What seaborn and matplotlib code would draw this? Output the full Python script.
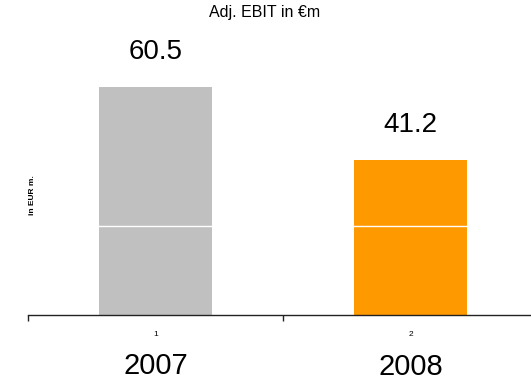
import matplotlib
matplotlib.use("Agg")
import matplotlib.pyplot as plt
from matplotlib.transforms import blended_transform_factory
import seaborn as sns
import pandas as pd

# Chart data
years = ["2007", "2008"]
tick_labels = ["1", "2"]
ebit = [60.5, 41.2]
bar_colors = ["#C0C0C0", "#FF9900"]
grid_value = 23.6

sns.set_style("white")
plt.rcParams["font.family"] = ["Liberation Sans", "DejaVu Sans"]
plt.rcParams["text.color"] = "black"
plt.rcParams["xtick.color"] = "black"

df = pd.DataFrame({"year": years, "ebit": ebit})

fig = plt.figure(figsize=(5.31, 3.80), dpi=100)
W, H = 531, 380
# plotting area spans past the right edge of the figure
ax = fig.add_axes([28 / W, 65 / H, 510 / W, 283 / H])

sns.barplot(data=df, x="year", y="ebit", hue="year", palette=bar_colors,
            width=0.445, legend=False, ax=ax, saturation=1, edgecolor="none")

ax.set_xlim(-0.5, 1.5)
ax.set_ylim(0, 75)

# white horizontal gridline drawn over the bars
ax.set_axisbelow(False)
ax.set_yticks([grid_value])
ax.yaxis.grid(True, color="white", linewidth=1.0)
ax.tick_params(axis="y", left=False, labelleft=False)

for side in ["left", "right", "top"]:
    ax.spines[side].set_visible(False)
ax.spines["bottom"].set_color("#222222")
ax.spines["bottom"].set_linewidth(1.0)

# category labels at centres, tick marks at category boundaries
ax.set_xticks([0, 1])
ax.set_xticklabels(tick_labels, fontsize=6, color="black")
ax.tick_params(axis="x", which="major", bottom=True, length=0, pad=11.5)
ax.set_xticks([-0.5, 0.5, 1.5], minor=True)
ax.tick_params(axis="x", which="minor", bottom=True, length=4, width=1,
               color="#222222", direction="out")
ax.set_xlabel("")
ax.set_ylabel("")

# value labels above the bars
for i, v in enumerate(ebit):
    ax.annotate(f"{v:.1f}", xy=(i, v), xytext=(0, 20), textcoords="offset points",
                ha="center", va="baseline", fontsize=20, color="black")

# year labels under the axis
trans = blended_transform_factory(ax.transData, ax.transAxes)
for i, y in enumerate(years):
    ax.annotate(y, xy=(i, 0), xycoords=trans, xytext=(0, -42.3 - 0.8 * i),
                textcoords="offset points", ha="center", va="baseline",
                fontsize=21, color="black")

fig.text(265 / W, 1 - 17 / H, "Adj. EBIT in €m", ha="center", va="baseline",
         fontsize=11.5, color="black")
fig.text(33 / W, 1 - 195 / H, "in EUR m.", rotation=90, ha="center", va="center",
         fontsize=6, fontweight="bold", color="black")

fig.savefig("out.png", dpi=100)
